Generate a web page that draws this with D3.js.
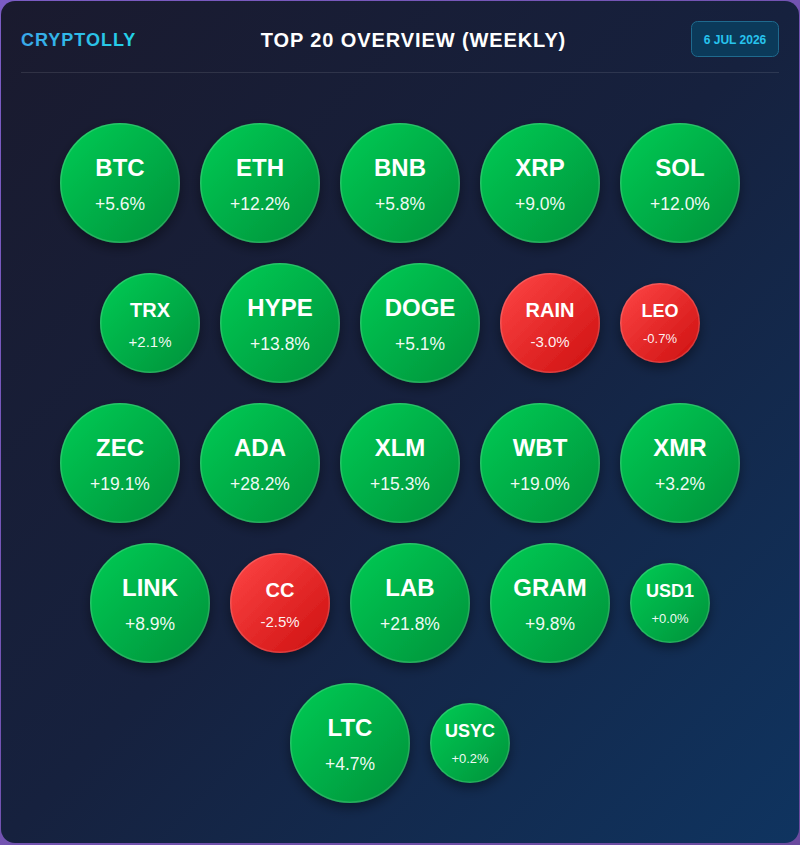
<!DOCTYPE html>
<html>
<head>
<meta charset="utf-8">
<script src="https://cdn.jsdelivr.net/npm/d3@7"></script>
<style>
  html, body { margin: 0; padding: 0; }
  body { width: 800px; height: 845px; background: linear-gradient(135deg, #7b5cc4, #6a4a9e); overflow: hidden; }
  svg { display: block; }
</style>
</head>
<body>
<div id="chart"></div>
<script>
// valores (cambio semanal %)
const symbols = ["BTC","ETH","BNB","XRP","SOL","TRX","HYPE","DOGE","RAIN","LEO",
                 "ZEC","ADA","XLM","WBT","XMR","LINK","CC","LAB","GRAM","USD1","LTC","USYC"]
const changes = [5.6, 12.2, 5.8, 9.0, 12.0, 2.1, 13.8, 5.1, -3.0, -0.7,
                 19.1, 28.2, 15.3, 19.0, 3.2, 8.9, -2.5, 21.8, 9.8, 0.0, 4.7, 0.2]
const titulo = "TOP 20 OVERVIEW (WEEKLY)"
const marca = "CRYPTOLLY"
const fecha = "6 JUL 2026"

const W = 800, H = 845
const fuente = "Liberation Sans, Arial, sans-serif"
const svg = d3.select("#chart").append("svg").attr("width", W).attr("height", H)
const defs = svg.append("defs")

const bg = defs.append("linearGradient").attr("id", "bg")
  .attr("x1", "0%").attr("y1", "0%").attr("x2", "100%").attr("y2", "100%")
bg.append("stop").attr("offset", "0%").attr("stop-color", "#1a1a2e")
bg.append("stop").attr("offset", "50%").attr("stop-color", "#16213e")
bg.append("stop").attr("offset", "100%").attr("stop-color", "#0f3460")

const up = defs.append("linearGradient").attr("id", "up")
  .attr("x1", "0%").attr("y1", "0%").attr("x2", "100%").attr("y2", "100%")
up.append("stop").attr("offset", "0%").attr("stop-color", "#00cc55")
up.append("stop").attr("offset", "100%").attr("stop-color", "#00913a")

const down = defs.append("linearGradient").attr("id", "down")
  .attr("x1", "0%").attr("y1", "0%").attr("x2", "100%").attr("y2", "100%")
down.append("stop").attr("offset", "0%").attr("stop-color", "#ff4646")
down.append("stop").attr("offset", "100%").attr("stop-color", "#cc0f0f")

const logoGrad = defs.append("linearGradient").attr("id", "logo")
logoGrad.append("stop").attr("offset", "0%").attr("stop-color", "#3aa8ea")
logoGrad.append("stop").attr("offset", "100%").attr("stop-color", "#22d3e6")

const sombra = defs.append("filter").attr("id", "sombra")
  .attr("x", "-30%").attr("y", "-30%").attr("width", "160%").attr("height", "170%")
sombra.append("feDropShadow").attr("dx", 0).attr("dy", 5).attr("stdDeviation", 6)
  .attr("flood-color", "#000").attr("flood-opacity", 0.4)

// tarjeta
svg.append("rect").attr("x", 1).attr("y", 1).attr("width", W - 2).attr("height", H - 3)
  .attr("rx", 14).attr("fill", "url(#bg)")

// cabecera
svg.append("text").attr("x", 21).attr("y", 45.5)
  .attr("font-family", fuente).attr("font-weight", "bold")
  .attr("font-size", 18).attr("letter-spacing", 1).attr("fill", "url(#logo)")
  .text(marca)

svg.append("text").attr("x", 413.5).attr("y", 46.5).attr("text-anchor", "middle")
  .attr("font-family", fuente).attr("font-weight", "bold")
  .attr("font-size", 20).attr("letter-spacing", 0.9).attr("fill", "#ffffff")
  .text(titulo)

svg.append("rect").attr("x", 691.5).attr("y", 21.5).attr("width", 87).attr("height", 35)
  .attr("rx", 6).attr("fill", "#0b3a5a").attr("stroke", "#1f6a8e").attr("stroke-width", 1)
svg.append("text").attr("x", 735).attr("y", 43.5).attr("text-anchor", "middle")
  .attr("font-family", fuente).attr("font-weight", "bold")
  .attr("font-size", 12).attr("fill", "#27c4ee")
  .text(fecha)

svg.append("line").attr("x1", 21).attr("x2", 779).attr("y1", 72.5).attr("y2", 72.5)
  .attr("stroke", "#ffffff").attr("stroke-opacity", 0.1)

// radio segun la magnitud del cambio
const radio = d3.scaleThreshold().domain([1, 3.1]).range([40, 50, 60])
const tamSimbolo = d3.scaleLinear().domain([40, 50, 60]).range([18, 20, 24])
const tamPct = d3.scaleLinear().domain([40, 50, 60]).range([13, 15, 17.5])
const fmt = v => d3.format("+.1f")(v).replace("\u2212", "-") + "%"

const data = symbols.map((s, i) => ({ s, c: changes[i], r: radio(Math.abs(changes[i])) }))

// disposicion tipo flex-wrap centrado
const gap = 20, anchoCaja = 680, top0 = 123
const filas = []
let fila = [], ancho = 0
data.forEach(d => {
  const w = d.r * 2
  if (fila.length && ancho + gap + w > anchoCaja) { filas.push(fila); fila = []; ancho = 0 }
  ancho += (fila.length ? gap : 0) + w
  fila.push(d)
})
if (fila.length) filas.push(fila)

let y = top0
filas.forEach(f => {
  const alto = d3.max(f, d => d.r * 2)
  const total = d3.sum(f, d => d.r * 2) + gap * (f.length - 1)
  let x = W / 2 - total / 2
  f.forEach(d => { d.cx = x + d.r; d.cy = y + alto / 2; x += d.r * 2 + gap })
  y += alto + gap
})

const burbujas = svg.append("g").selectAll("g").data(data).join("g")
  .attr("transform", d => `translate(${d.cx},${d.cy})`)

burbujas.append("circle")
  .attr("r", d => d.r)
  .attr("fill", d => d.c < 0 ? "url(#down)" : "url(#up)")
  .attr("filter", "url(#sombra)")
burbujas.append("circle")
  .attr("r", d => d.r - 0.75)
  .attr("fill", "none").attr("stroke", "#ffffff").attr("stroke-opacity", 0.15).attr("stroke-width", 1.5)

burbujas.append("text")
  .attr("text-anchor", "middle")
  .attr("y", d => -(0.05 * d.r + 4))
  .attr("font-family", fuente).attr("font-weight", "bold")
  .attr("font-size", d => tamSimbolo(d.r)).attr("fill", "#ffffff")
  .text(d => d.s)

burbujas.append("text")
  .attr("text-anchor", "middle")
  .attr("y", d => 0.35 * d.r + 6)
  .attr("font-family", fuente)
  .attr("font-size", d => tamPct(d.r)).attr("fill", "#ffffff").attr("fill-opacity", 0.95)
  .text(d => fmt(d.c))
</script>
</body>
</html>
